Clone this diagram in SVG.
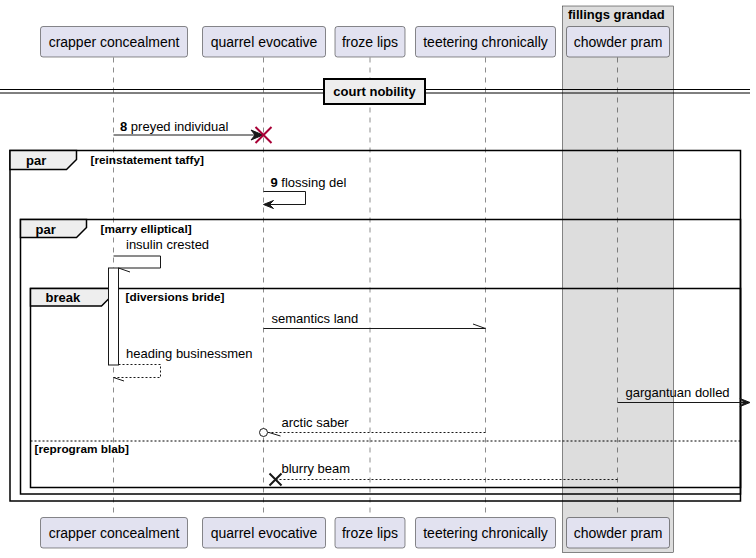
<svg xmlns="http://www.w3.org/2000/svg" width="756" height="558" viewBox="0 0 756 558">
<defs>
<style>
text{font-family:"Liberation Sans",Arial,sans-serif;fill:#000}
.pt{font-size:14px;text-anchor:middle}
.msg{font-size:13px}
.b13{font-size:13px;font-weight:bold}
.b11{font-size:11.8px;font-weight:bold}
.part{fill:#E2E2F0;stroke:#181818;stroke-width:0.5}
.life{stroke:#181818;stroke-width:0.5;stroke-dasharray:5,5;fill:none}
.frame{fill:none;stroke:#000;stroke-width:1.5}
.tab{fill:#EEEEEE;stroke:#000;stroke-width:1.5}
.ln{stroke:#181818;stroke-width:1;fill:none}
.dash{stroke:#181818;stroke-width:1;fill:none;stroke-dasharray:2,2}
</style>
</defs>
<rect width="756" height="558" fill="#fff"/>
<g id="box-fillings-grandad">
<rect x="562.5" y="6" width="111" height="546.5" fill="#DDDDDD" stroke="#181818" stroke-width="0.5"/>
<text class="b13" x="568" y="19">fillings grandad</text>
</g>
<g id="lifelines">
<line class="life" x1="113.5" y1="57.5" x2="113.5" y2="517"/>
<line class="life" x1="263.5" y1="57.5" x2="263.5" y2="517"/>
<line class="life" x1="370" y1="57.5" x2="370" y2="517"/>
<line class="life" x1="485.5" y1="57.5" x2="485.5" y2="517"/>
<line class="life" x1="617.5" y1="57.5" x2="617.5" y2="517"/>
</g>
<g id="divider-court-nobility">
<line x1="0" y1="89.5" x2="750" y2="89.5" stroke="#000" stroke-width="1"/>
<line x1="0" y1="93" x2="750" y2="93" stroke="#000" stroke-width="1"/>
<rect x="324" y="79" width="101" height="25" fill="#EEEEEE" stroke="#000" stroke-width="2"/>
<text class="b13" x="374.5" y="96" text-anchor="middle">court nobility</text>
</g>
<g id="frame-par-reinstatement">
<rect class="frame" x="10" y="150.5" width="730.5" height="350.5"/>
<path class="tab" d="M10,150.5 H76.5 V159.5 L66.5,169.5 H10 Z"/>
<text class="b13" x="26" y="165">par</text>
<text class="b11" x="90.5" y="164">[reinstatement taffy]</text>
</g>
<g id="frame-par-marry">
<rect class="frame" x="20.5" y="219.5" width="720" height="274.5"/>
<path class="tab" d="M20.5,219.5 H86.5 V227.5 L76.5,237.5 H20.5 Z"/>
<text class="b13" x="35.5" y="234">par</text>
<text class="b11" x="100.5" y="233">[marry elliptical]</text>
</g>
<g id="frame-break">
<rect class="frame" x="30.5" y="288.5" width="710" height="199"/>
<path class="tab" d="M30.5,288.5 H111.5 V296 L101.5,306 H30.5 Z"/>
<text class="b13" x="45.5" y="302">break</text>
<text class="b11" x="125.5" y="301">[diversions bride]</text>
<line x1="30.5" y1="441" x2="740.5" y2="441" stroke="#000" stroke-width="1" stroke-dasharray="2,2"/>
<text class="b11" x="34.5" y="453">[reprogram blab]</text>
</g>
<g id="activation">
<rect x="108.5" y="268" width="10" height="97" fill="#fff" stroke="#181818" stroke-width="1"/>
</g>
<g id="connectors">
<g id="m8">
<line class="ln" x1="113.5" y1="135" x2="262" y2="135"/>
<polygon points="263,135 251,130 255,135 251,140" fill="#181818" stroke="#181818"/>
<path d="M255.5,127 L271.5,143 M271.5,127 L255.5,143" stroke="#A80036" stroke-width="2"/>
<text class="msg" x="120" y="131"><tspan font-weight="bold">8</tspan> preyed individual</text>
</g>
<g id="m9">
<path class="ln" d="M263.5,191.5 H305.5 V204.5 H264.5"/>
<polygon points="263.5,204.5 273.5,200.5 269.5,204.5 273.5,208.5" fill="#181818" stroke="#181818"/>
<text class="msg" x="270.5" y="187"><tspan font-weight="bold">9</tspan> flossing del</text>
</g>
<g id="m-insulin">
<path class="ln" d="M113.5,256 H160.5 V268 H118.5"/>
<line class="ln" x1="118.5" y1="268" x2="130" y2="272"/>
<text class="msg" x="126" y="249">insulin crested</text>
</g>
<g id="m-semantics">
<line class="ln" x1="263.5" y1="328.5" x2="485.5" y2="328.5"/>
<line class="ln" x1="485.5" y1="328.5" x2="473" y2="324"/>
<text class="msg" x="271.5" y="323">semantics land</text>
</g>
<g id="m-heading">
<path class="dash" d="M118.5,364.5 H160.5 V377.5 H113.5"/>
<line class="ln" x1="113.5" y1="377.5" x2="124" y2="381"/>
<text class="msg" x="126" y="358">heading businessmen</text>
</g>
<g id="m-gargantuan">
<line class="ln" x1="617.5" y1="402.5" x2="748" y2="402.5"/>
<polygon points="750,402.5 740,398.5 744,402.5 740,406.5" fill="#181818" stroke="#181818"/>
<text class="msg" x="625.5" y="397">gargantuan dolled</text>
</g>
<g id="m-arctic">
<line class="dash" x1="485.5" y1="432.5" x2="268" y2="432.5"/>
<circle cx="263.5" cy="432.5" r="4" fill="#fff" stroke="#181818" stroke-width="1"/>
<line class="ln" x1="269" y1="432.5" x2="280.5" y2="436"/>
<text class="msg" x="281.5" y="427">arctic saber</text>
</g>
<g id="m-blurry">
<line class="dash" x1="617.5" y1="479.5" x2="276" y2="479.5"/>
<path d="M269.5,473.5 L281.5,485.5 M281.5,473.5 L269.5,485.5" stroke="#181818" stroke-width="2"/>
<text class="msg" x="281.5" y="473">blurry beam</text>
</g>
</g>
<g id="p-crapper">
<rect class="part" x="40.5" y="26.5" width="147" height="30.5" rx="2.5"/>
<text class="pt" x="114" y="47">crapper concealment</text>
<rect class="part" x="40.5" y="517.5" width="147" height="30.5" rx="2.5"/>
<text class="pt" x="114" y="538">crapper concealment</text>
</g>
<g id="p-quarrel">
<rect class="part" x="202.5" y="26.5" width="123" height="30.5" rx="2.5"/>
<text class="pt" x="264" y="47">quarrel evocative</text>
<rect class="part" x="202.5" y="517.5" width="123" height="30.5" rx="2.5"/>
<text class="pt" x="264" y="538">quarrel evocative</text>
</g>
<g id="p-froze">
<rect class="part" x="335" y="26.5" width="70" height="30.5" rx="2.5"/>
<text class="pt" x="370" y="47">froze lips</text>
<rect class="part" x="335" y="517.5" width="70" height="30.5" rx="2.5"/>
<text class="pt" x="370" y="538">froze lips</text>
</g>
<g id="p-teetering">
<rect class="part" x="415.5" y="26.5" width="140" height="30.5" rx="2.5"/>
<text class="pt" x="485.5" y="47">teetering chronically</text>
<rect class="part" x="415.5" y="517.5" width="140" height="30.5" rx="2.5"/>
<text class="pt" x="485.5" y="538">teetering chronically</text>
</g>
<g id="p-chowder">
<rect class="part" x="566.5" y="26.5" width="103" height="30.5" rx="2.5"/>
<text class="pt" x="618" y="47">chowder pram</text>
<rect class="part" x="566.5" y="517.5" width="103" height="30.5" rx="2.5"/>
<text class="pt" x="618" y="538">chowder pram</text>
</g>
</svg>
